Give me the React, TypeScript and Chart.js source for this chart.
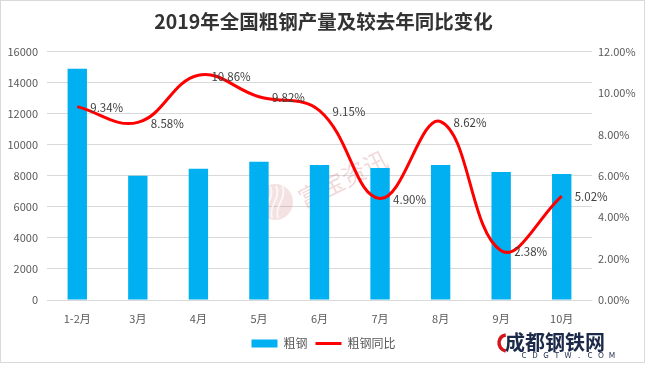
import React, { useEffect, useRef } from "react";
import { Chart, registerables } from "chart.js";

Chart.register(...registerables);

const categories = ["1-2月", "3月", "4月", "5月", "6月", "7月", "8月", "9月", "10月"];
const steelOutput = [14900, 8000, 8450, 8900, 8700, 8500, 8700, 8250, 8120];
const yoyGrowth = [9.34, 8.58, 10.86, 9.82, 9.15, 4.9, 8.62, 2.38, 5.02];
const leftTicksMax = 16000;
const rightTicksMax = 12;
const titleText = "2019年全国粗钢产量及较去年同比变化";
const seriesNames = ["粗钢", "粗钢同比"];
const watermarkText = "富宝资讯";
const logoText = "成都钢铁网";
const logoSub = "CDGTW.COM";

const FONT = '"Noto Sans CJK SC", "Noto Sans", sans-serif';

const framePlugin = {
  id: "frame",
  beforeDraw(chart: any) {
    const { ctx, width, height } = chart;
    ctx.save();
    ctx.fillStyle = "#ffffff";
    ctx.fillRect(0, 0, width, height);
    ctx.strokeStyle = "#d9d9d9";
    ctx.lineWidth = 1;
    ctx.strokeRect(0.5, 0.5, width - 3, height - 3);
    ctx.restore();
  },
};

const watermarkPlugin = {
  id: "watermark",
  beforeDatasetsDraw(chart: any) {
    const { ctx } = chart;
    ctx.save();
    ctx.fillStyle = "rgba(205,120,120,0.22)";
    ctx.beginPath();
    ctx.arc(275, 202, 18, 0, Math.PI * 2);
    ctx.fill();
    ctx.strokeStyle = "rgba(255,255,255,0.7)";
    ctx.lineWidth = 2;
    for (let i = 0; i < 3; i++) {
      ctx.beginPath();
      ctx.moveTo(266 + i * 6, 218);
      ctx.bezierCurveTo(262 + i * 6, 205, 276 + i * 6, 198, 270 + i * 6, 186);
      ctx.stroke();
    }
    ctx.translate(343, 179);
    ctx.rotate(-0.46);
    ctx.fillStyle = "rgba(205,120,120,0.28)";
    ctx.font = `24px ${FONT}`;
    ctx.textAlign = "center";
    ctx.textBaseline = "middle";
    ctx.fillText(watermarkText, 0, 0);
    ctx.restore();
  },
};

const labelPlugin = {
  id: "pointLabels",
  afterDatasetsDraw(chart: any) {
    const { ctx } = chart;
    const meta = chart.getDatasetMeta(1);
    ctx.save();
    ctx.fillStyle = "#404040";
    ctx.font = `11.5px ${FONT}`;
    ctx.textAlign = "left";
    ctx.textBaseline = "middle";
    meta.data.forEach((pt: any, i: number) => {
      ctx.fillText(yoyGrowth[i].toFixed(2) + "%", pt.x + 13, pt.y + 1);
    });
    ctx.restore();
  },
};

const logoPlugin = {
  id: "logo",
  afterDraw(chart: any) {
    const { ctx } = chart;
    ctx.save();
    ctx.strokeStyle = "#d4161c";
    ctx.lineWidth = 3.5;
    ctx.beginPath();
    ctx.arc(507, 343, 8, Math.PI * 0.55, Math.PI * 1.45);
    ctx.stroke();
    ctx.fillStyle = "#1c2a4a";
    ctx.font = `bold 20px ${FONT}`;
    ctx.textAlign = "left";
    ctx.textBaseline = "middle";
    ctx.fillText(logoText, 505, 342);
    ctx.font = `8px ${FONT}`;
    ctx.textAlign = "center";
    const chars = logoSub.split("");
    chars.forEach((c, i) => {
      ctx.fillText(c, 524 + i * 11, 355);
    });
    ctx.restore();
  },
};

export default function App() {
  const canvasRef = useRef<HTMLCanvasElement | null>(null);

  useEffect(() => {
    const canvas = canvasRef.current;
    if (!canvas) return;
    const chart = new Chart(canvas, {
      type: "bar",
      data: {
        labels: categories,
        datasets: [
          {
            type: "bar",
            label: seriesNames[0],
            data: steelOutput,
            backgroundColor: "#00B0F0",
            borderWidth: 0,
            yAxisID: "y",
            barPercentage: 0.32,
            categoryPercentage: 1,
            order: 2,
          },
          {
            type: "line",
            label: seriesNames[1],
            data: yoyGrowth,
            borderColor: "#FF0000",
            backgroundColor: "#FF0000",
            borderWidth: 3,
            pointRadius: 0,
            tension: 0.4,
            yAxisID: "y1",
            order: 1,
          } as any,
        ],
      },
      options: {
        responsive: false,
        animation: false,
        layout: { padding: { left: 0, right: 0, top: 0, bottom: 5.5 } },
        plugins: {
          title: {
            display: true,
            text: titleText,
            color: "#333333",
            font: { family: FONT, size: 19.5, weight: "bold" },
            padding: { top: 10, bottom: 18.2 },
          },
          legend: {
            display: true,
            position: "bottom",
            labels: {
              usePointStyle: true,
              pointStyleWidth: 26,
              boxHeight: 8,
              padding: 8,
              color: "#595959",
              font: { family: FONT, size: 12 },
              generateLabels(chart: any) {
                const items = Chart.defaults.plugins.legend.labels.generateLabels(chart);
                items.sort((a: any, b: any) => a.datasetIndex - b.datasetIndex);
                items.forEach((it: any) => {
                  if (it.datasetIndex === 0) {
                    it.pointStyle = "rect";
                    it.lineWidth = 0;
                    it.fillStyle = "#00B0F0";
                    it.strokeStyle = "#00B0F0";
                  } else {
                    it.pointStyle = "line";
                    it.lineWidth = 3;
                    it.strokeStyle = "#FF0000";
                  }
                });
                return items;
              },
            },
          },
          tooltip: { enabled: false },
        },
        scales: {
          x: {
            grid: { display: false, drawTicks: false },
            border: { display: false },
            ticks: {
              color: "#595959",
              font: { family: FONT, size: 11 },
              padding: 12,
              maxRotation: 0,
            },
            afterFit(scale: any) {
              scale.height = 29.5;
            },
          },
          y: {
            position: "left",
            min: 0,
            max: leftTicksMax,
            ticks: {
              stepSize: 2000,
              color: "#595959",
              font: { family: FONT, size: 11 },
              padding: 9,
              callback: (v: any) => String(v),
            },
            grid: { color: "#d9d9d9", drawTicks: false, lineWidth: 1 },
            border: { display: false },
            afterFit(scale: any) {
              scale.width = 47;
            },
          },
          y1: {
            position: "right",
            min: 0,
            max: rightTicksMax,
            ticks: {
              stepSize: 2,
              color: "#595959",
              font: { family: FONT, size: 11 },
              padding: 6,
              callback: (v: any) => Number(v).toFixed(2) + "%",
            },
            grid: { display: false, drawTicks: false },
            border: { display: false },
            afterFit(scale: any) {
              scale.width = 55;
            },
          },
        },
      } as any,
      plugins: [framePlugin, watermarkPlugin, labelPlugin, logoPlugin],
    });
    return () => chart.destroy();
  }, []);

  return (
    <div style={{ position: "absolute", left: 0, top: 0, width: 647, height: 365 }}>
      <canvas ref={canvasRef} width={647} height={365} style={{ display: "block" }} />
    </div>
  );
}
